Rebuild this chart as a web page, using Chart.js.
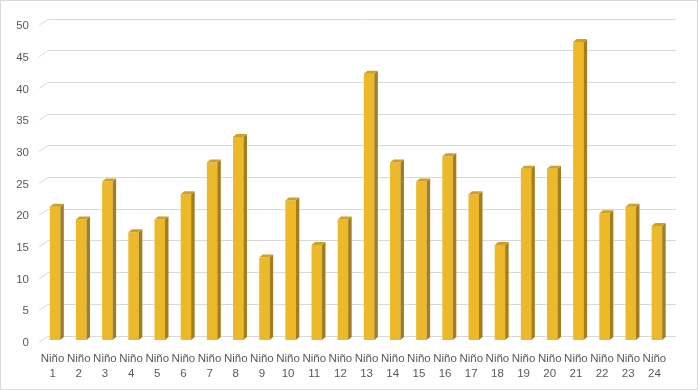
<!DOCTYPE html>
<html lang="es">
<head>
  <meta charset="UTF-8">
  <title>Niños</title>
  <script src="https://cdn.jsdelivr.net/npm/chart.js"></script>
  <style>
    body { margin: 0; background: #fff; }
    canvas { display: block; }
  </style>
</head>
<body>
  <canvas id="chart" width="699" height="390"></canvas>

  <script>
    // Datos
    const categorias = [];
    for (let i = 1; i <= 24; i++) categorias.push(['Niño', String(i)]);
    const valores = [21, 19, 25, 17, 19, 23, 28, 32, 13, 22, 15, 19,
                     42, 28, 25, 29, 23, 15, 27, 27, 47, 20, 21, 18];
    const yMin = 0, yMax = 50, yPaso = 5;

    const colorFrente = '#EBB92A';
    const colorLado = '#A37D1E';
    const colorTecho = '#CFA026';
    const colorGrid = '#D9D9D9';

    // profundidad de las barras
    const prof = { dx: 3.5, dy: 3 };

    // paredes 3D: rejilla de fondo y diagonales de frente
    const rejilla3d = {
      id: 'rejilla3d',
      beforeDraw(chart) {
        const ctx = chart.ctx;
        ctx.save();
        ctx.strokeStyle = colorGrid;
        ctx.lineWidth = 1;
        ctx.strokeRect(0.5, 0.5, chart.width - 2, chart.height - 1);
        ctx.restore();
      },
      beforeDatasetsDraw(chart) {
        const { ctx, chartArea, scales } = chart;
        const y = scales.y;
        ctx.save();
        ctx.strokeStyle = colorGrid;
        ctx.lineWidth = 1;
        y.ticks.forEach(t => {
          const py = y.getPixelForValue(t.value);
          const bx = chartArea.left + 6.2, by = Math.round(py - 4.5) + 0.5;
          ctx.beginPath();
          ctx.moveTo(chartArea.left - 2.8, py + 2);
          ctx.lineTo(bx, by);
          ctx.lineTo(chartArea.right + 6, by);
          ctx.stroke();
        });
        ctx.restore();
      },
      afterDatasetsDraw(chart) {
        const ctx = chart.ctx;
        const meta = chart.getDatasetMeta(0);
        ctx.save();
        meta.data.forEach(bar => {
          const { x, y, base, width } = bar.getProps(['x', 'y', 'base', 'width'], true);
          const l = x - width / 2, r = x + width / 2;
          ctx.fillStyle = colorLado;
          ctx.beginPath();
          ctx.moveTo(r, y);
          ctx.lineTo(r + prof.dx, y - prof.dy);
          ctx.lineTo(r + prof.dx, base - prof.dy);
          ctx.lineTo(r, base);
          ctx.closePath();
          ctx.fill();
          ctx.fillStyle = colorTecho;
          ctx.beginPath();
          ctx.moveTo(l, y);
          ctx.lineTo(l + prof.dx, y - prof.dy);
          ctx.lineTo(r + prof.dx, y - prof.dy);
          ctx.lineTo(r, y);
          ctx.closePath();
          ctx.fill();
        });
        ctx.restore();
      }
    };

    new Chart(document.getElementById('chart'), {
      type: 'bar',
      data: {
        labels: categorias,
        datasets: [{
          data: valores,
          backgroundColor: colorFrente,
          borderWidth: 0,
          barPercentage: 0.4,
          categoryPercentage: 1
        }]
      },
      options: {
        responsive: false,
        animation: false,
        layout: { padding: { top: 23, right: 29, bottom: 11, left: 0 } },
        plugins: {
          legend: { display: false },
          tooltip: { enabled: false }
        },
        scales: {
          x: {
            grid: { display: false, drawTicks: false },
            border: { display: false },
            afterFit(scale) { scale.height = 39; },
            ticks: {
              color: '#595959',
              font: { family: 'Liberation Sans', size: 11.5, lineHeight: 1.3 },
              padding: 11,
              labelOffset: -2.5,
              maxRotation: 0,
              autoSkip: false
            }
          },
          y: {
            min: yMin,
            max: yMax,
            grid: { display: false, drawTicks: false },
            border: { display: false },
            afterFit(scale) { scale.width = 42; },
            ticks: {
              stepSize: yPaso,
              color: '#595959',
              font: { family: 'Liberation Sans', size: 11.5 },
              padding: 13,
              labelOffset: 3
            }
          }
        }
      },
      plugins: [rejilla3d]
    });
  </script>
</body>
</html>
